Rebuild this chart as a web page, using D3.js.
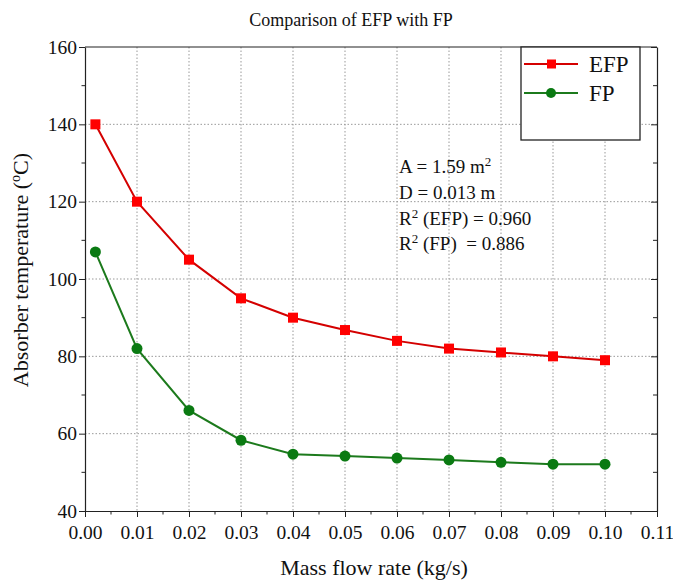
<!DOCTYPE html>
<html>
<head>
<meta charset="utf-8">
<script src="https://cdn.jsdelivr.net/npm/d3@7"></script>
<style>
  body { margin: 0; background: #fff; }
  text { font-family: "Liberation Serif", "Times New Roman", serif; fill: #111; }
</style>
</head>
<body>
<div id="chart"></div>
<script>
// Mass flow rate (kg/s)
const flowRates = [0.002, 0.01, 0.02, 0.03, 0.04, 0.05, 0.06, 0.07, 0.08, 0.09, 0.10];
// Absorber temperature (°C)
const efpTemps = [140, 120, 105, 95, 90, 86.8, 84, 82, 81, 80, 79];
const fpTemps = [107, 82, 66, 58.3, 54.7, 54.2, 53.7, 53.2, 52.6, 52.1, 52.1];

const xTicks = [0, 0.01, 0.02, 0.03, 0.04, 0.05, 0.06, 0.07, 0.08, 0.09, 0.10, 0.11];
const yTicks = [40, 60, 80, 100, 120, 140, 160];

const series = [
    { name: 'EFP', values: efpTemps, line: '#d40000', fill: '#ff0000', shape: 'square' },
    { name: 'FP', values: fpTemps, line: '#1c7a1c', fill: '#0a7a12', shape: 'circle' }
];

const notes = ['A = 1.59 m|2', 'D = 0.013 m', 'R|2| (EFP) = 0.960', 'R|2| (FP)  = 0.886'];

const width = 673, height = 580;
const plotLeft = 85, plotRight = 657, plotTop = 47, plotBottom = 511;

const svg = d3.select('#chart').append('svg')
    .attr('width', width)
    .attr('height', height);

const xScale = d3.scaleLinear().domain([0, 0.11]).range([plotLeft, plotRight]);
const yScale = d3.scaleLinear().domain([40, 160]).range([plotBottom, plotTop]);

// Grid lines (dotted)
svg.append('g').selectAll('line')
    .data(xTicks.slice(1, -1))
    .enter().append('line')
    .attr('x1', d => xScale(d)).attr('x2', d => xScale(d))
    .attr('y1', plotTop).attr('y2', plotBottom)
    .attr('stroke', '#999').attr('stroke-dasharray', '1.5,2');
svg.append('g').selectAll('line')
    .data(yTicks.slice(1, -1))
    .enter().append('line')
    .attr('x1', plotLeft).attr('x2', plotRight)
    .attr('y1', d => yScale(d)).attr('y2', d => yScale(d))
    .attr('stroke', '#999').attr('stroke-dasharray', '1.5,2');

// Minor tick values
const xMinor = d3.range(0.005, 0.11, 0.01);
const yMinor = d3.range(50, 160, 20);

// Bottom axis
const xAxis = svg.append('g')
    .attr('transform', `translate(0, ${plotBottom})`)
    .call(d3.axisBottom(xScale).tickValues(xTicks).tickFormat(d3.format('.2f')).tickSize(6).tickSizeOuter(0));
xAxis.append('g').selectAll('line')
    .data(xMinor).enter().append('line')
    .attr('x1', d => xScale(d)).attr('x2', d => xScale(d))
    .attr('y1', 0).attr('y2', 3.5).attr('stroke', '#222');

// Left axis
const yAxis = svg.append('g')
    .attr('transform', `translate(${plotLeft}, 0)`)
    .call(d3.axisLeft(yScale).tickValues(yTicks).tickSize(6).tickSizeOuter(0));
yAxis.append('g').selectAll('line')
    .data(yMinor).enter().append('line')
    .attr('x1', 0).attr('x2', -3.5)
    .attr('y1', d => yScale(d)).attr('y2', d => yScale(d)).attr('stroke', '#222');

[xAxis, yAxis].forEach(ax => {
    ax.selectAll('.domain').attr('stroke', '#222').attr('stroke-width', 1.2);
    ax.selectAll('.tick line').attr('stroke', '#222');
    ax.selectAll('text').style('font-size', '19.5px').attr('fill', '#111');
});
xAxis.selectAll('.tick text').attr('dy', '0.95em');
yAxis.selectAll('.tick text').attr('x', -8);

// Right axis with inward ticks, top border
const rightAxis = svg.append('g')
    .attr('transform', `translate(${plotRight}, 0)`)
    .call(d3.axisRight(yScale).tickValues(yTicks).tickSize(-6).tickSizeOuter(0).tickFormat(''));
rightAxis.append('g').selectAll('line')
    .data(yMinor).enter().append('line')
    .attr('x1', 0).attr('x2', -4)
    .attr('y1', d => yScale(d)).attr('y2', d => yScale(d)).attr('stroke', '#222');
rightAxis.selectAll('.domain').attr('stroke', '#222').attr('stroke-width', 1.2);
rightAxis.selectAll('.tick line').attr('stroke', '#222');

svg.append('line')
    .attr('x1', plotLeft).attr('x2', plotRight)
    .attr('y1', plotTop).attr('y2', plotTop)
    .attr('stroke', '#222').attr('stroke-width', 1.2);

// Lines and markers
const line = d3.line()
    .x((d, i) => xScale(flowRates[i]))
    .y(d => yScale(d));

series.forEach(s => {
    svg.append('path')
        .datum(s.values)
        .attr('fill', 'none')
        .attr('stroke', s.line)
        .attr('stroke-width', 2)
        .attr('d', line);

    const g = svg.append('g');
    if (s.shape === 'square') {
        g.selectAll('rect')
            .data(s.values).enter().append('rect')
            .attr('x', (d, i) => xScale(flowRates[i]) - 5)
            .attr('y', d => yScale(d) - 5)
            .attr('width', 10).attr('height', 10)
            .attr('fill', s.fill);
    } else {
        g.selectAll('circle')
            .data(s.values).enter().append('circle')
            .attr('cx', (d, i) => xScale(flowRates[i]))
            .attr('cy', d => yScale(d))
            .attr('r', 5.5)
            .attr('fill', s.fill);
    }
});

// Legend
const legend = svg.append('g').attr('transform', 'translate(521, 47)');
legend.append('rect')
    .attr('width', 119).attr('height', 93)
    .attr('fill', '#fff').attr('stroke', '#222').attr('stroke-width', 1.3);
series.forEach((s, i) => {
    const y = 17 + i * 29;
    legend.append('line')
        .attr('x1', 3).attr('x2', 57).attr('y1', y).attr('y2', y)
        .attr('stroke', s.line).attr('stroke-width', 2);
    if (s.shape === 'square') {
        legend.append('rect').attr('x', 26).attr('y', y - 4.5)
            .attr('width', 9).attr('height', 9).attr('fill', s.fill);
    } else {
        legend.append('circle').attr('cx', 30).attr('cy', y).attr('r', 5).attr('fill', s.fill);
    }
    legend.append('text')
        .attr('x', 68).attr('y', y + 8)
        .style('font-size', '23px')
        .text(s.name);
});

// Annotation block with superscripts
notes.forEach((n, i) => {
    const parts = n.split('|');
    const t = svg.append('text')
        .attr('x', 399).attr('y', 173 + i * 25.8)
        .style('font-size', '19px')
        .style('white-space', 'pre')
        .attr('xml:space', 'preserve');
    parts.forEach((p, j) => {
        if (j % 2 === 1) {
            t.append('tspan').attr('dy', -7).style('font-size', '13px').text(p);
        } else {
            const ts = t.append('tspan').text(p);
            if (j > 0) ts.attr('dy', 7);
        }
    });
});

// Title
svg.append('text')
    .attr('x', (plotLeft + plotRight) / 2 - 20).attr('y', 26)
    .style('text-anchor', 'middle')
    .style('font-size', '18px')
    .text('Comparison of EFP with FP');

// Axis titles
svg.append('text')
    .attr('x', (plotLeft + plotRight) / 2 + 3).attr('y', 575)
    .style('text-anchor', 'middle')
    .style('font-size', '22px')
    .text('Mass flow rate (kg/s)');

const yTitle = svg.append('text')
    .attr('transform', `translate(28, ${(plotTop + plotBottom) / 2 - 9}) rotate(-90)`)
    .style('text-anchor', 'middle')
    .style('font-size', '22px');
yTitle.append('tspan').text('Absorber temperature (');
yTitle.append('tspan').attr('dy', -8).style('font-size', '14px').text('o');
yTitle.append('tspan').attr('dy', 8).text('C)');
</script>
</body>
</html>
